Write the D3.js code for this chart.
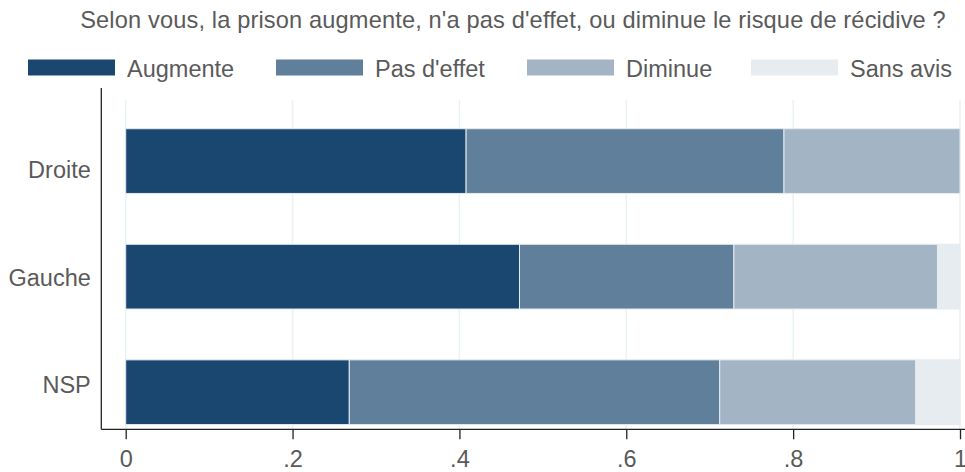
<!DOCTYPE html>
<html>
<head>
<meta charset="utf-8">
<script src="https://cdn.jsdelivr.net/npm/d3@7"></script>
<style>
  body { margin: 0; background: #fff; }
  svg { font-family: "Liberation Sans", Arial, sans-serif; }
</style>
</head>
<body>
<div class="chart"></div>
<script>
const categories = ["Droite", "Gauche", "NSP"];
const seriesNames = ["Augmente", "Pas d'effet", "Diminue", "Sans avis"];
const augmente = [0.408, 0.472, 0.268];
const pasEffet = [0.381, 0.257, 0.444];
const diminue = [0.211, 0.244, 0.235];
const sansAvis = [0.0, 0.027, 0.053];
const tickValues = [0, 0.2, 0.4, 0.6, 0.8, 1];
const tickLabels = ["0", ".2", ".4", ".6", ".8", "1"];

const colors = ["#1a476f", "#5f7f9a", "#a3b4c4", "#e7ecf0"];
const textColor = "#5a5a5a";

const width = 965, height = 472;

const rows = categories.map((c, i) => ({
    cat: c,
    "Augmente": augmente[i],
    "Pas d'effet": pasEffet[i],
    "Diminue": diminue[i],
    "Sans avis": sansAvis[i]
}));

const stack = d3.stack().keys(seriesNames)(rows);

const x = d3.scaleLinear().domain([0, 1]).range([125.7, 960]);
const y = d3.scaleBand().domain(categories).range([103.3, 450]).paddingInner(0.44).paddingOuter(0.22);
// category labels sit on their own slightly tighter spacing
const yLabel = d3.scalePoint().domain(categories).range([170, 385]);

const svg = d3.select(".chart")
    .append("svg")
    .attr("width", width)
    .attr("height", height);

// title
svg.append("text")
    .attr("x", 513)
    .attr("y", 27.5)
    .attr("text-anchor", "middle")
    .attr("font-size", 23.6)
    .attr("letter-spacing", 0.15)
    .attr("fill", textColor)
    .text("Selon vous, la prison augmente, n'a pas d'effet, ou diminue le risque de récidive ?");

// legend
const legendX = [28, 276, 527, 751];
const legend = svg.selectAll("g.legend")
    .data(seriesNames)
    .join("g")
    .attr("class", "legend")
    .attr("transform", (d, i) => `translate(${legendX[i]},59.5)`);

legend.append("rect")
    .attr("width", 87)
    .attr("height", 16)
    .attr("fill", (d, i) => colors[i]);

legend.append("text")
    .attr("x", 99)
    .attr("y", 17.2)
    .attr("font-size", 23.5)
    .attr("fill", textColor)
    .text(d => d);

// grid
svg.append("g")
    .selectAll("line")
    .data(tickValues)
    .join("line")
    .attr("x1", d => x(d))
    .attr("x2", d => x(d))
    .attr("y1", 100)
    .attr("y2", 429)
    .attr("stroke", "#eaf2f3")
    .attr("stroke-width", 1.5);

// bars
svg.append("g")
    .selectAll("g")
    .data(stack)
    .join("g")
    .attr("fill", (d, i) => colors[i])
    .selectAll("rect")
    .data(d => d.filter(s => s[1] - s[0] > 0))
    .join("rect")
    .attr("x", d => x(d[0]))
    .attr("y", d => y(d.data.cat))
    .attr("width", d => x(d[1]) - x(d[0]))
    .attr("height", y.bandwidth())
    .attr("stroke", "#e4ebef")
    .attr("stroke-width", 1);

// y axis
const yAxis = svg.append("g")
    .attr("transform", "translate(101.3,0)")
    .call(d3.axisLeft(yLabel).tickSize(0).tickPadding(10.5));
yAxis.select(".domain").attr("d", "M0,88V429.3").attr("stroke", "#222").attr("stroke-width", 1.3);
yAxis.selectAll("text")
    .attr("font-size", 23.5)
    .attr("fill", textColor)
    .attr("font-family", "Liberation Sans, Arial, sans-serif");

// x axis
const xAxis = svg.append("g")
    .attr("transform", "translate(0,429.3)")
    .call(d3.axisBottom(x).tickValues(tickValues).tickFormat((d, i) => tickLabels[i]).tickSize(10).tickPadding(11.5));
xAxis.select(".domain").attr("d", "M101.3,0H965").attr("stroke", "#222").attr("stroke-width", 1.3);
xAxis.selectAll(".tick line").attr("stroke", "#222").attr("stroke-width", 1.3);
xAxis.selectAll("text")
    .attr("font-size", 23.5)
    .attr("fill", textColor)
    .attr("font-family", "Liberation Sans, Arial, sans-serif");
</script>
</body>
</html>
